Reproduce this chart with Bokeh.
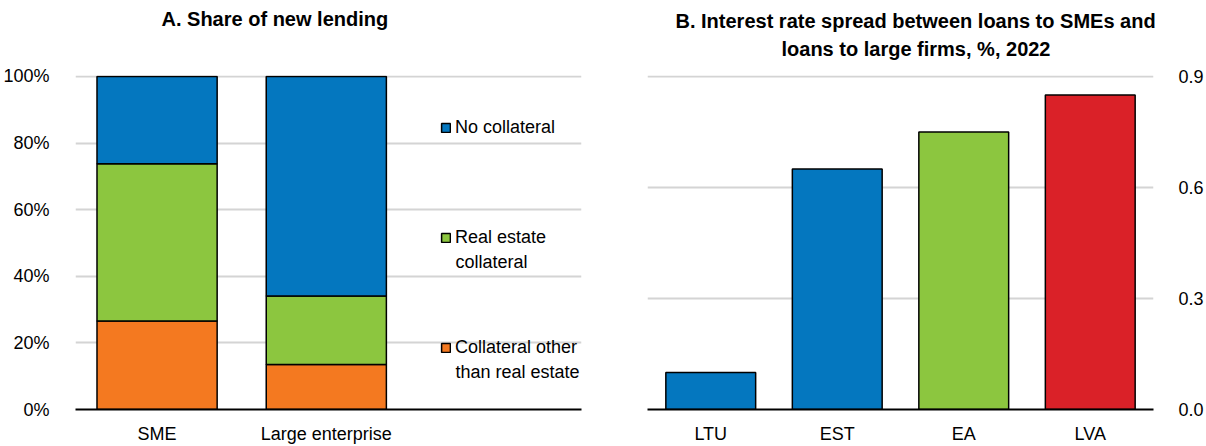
from bokeh.plotting import figure
from bokeh.models import (Range1d, FactorRange, FixedTicker, NumeralTickFormatter,
                          Legend, LegendItem, ColumnDataSource, Label, Title)
from bokeh.layouts import row
from bokeh.embed import file_html
from bokeh.resources import INLINE

# ---- data ----
categories_a = ["SME", "Large enterprise"]
collateral_other = [0.266, 0.135]
real_estate = [0.472, 0.206]
no_collateral = [0.262, 0.659]
series_a = ["collateral_other", "real_estate", "no_collateral"]
legend_first = ["Collateral other", "Real estate", "No collateral"]
legend_second = ["than real estate", "collateral", None]

countries = ["LTU", "EST", "EA", "LVA"]
spread = [0.10, 0.65, 0.75, 0.85]

BLUE = "#0477BF"
GREEN = "#8CC63F"
ORANGE = "#F47920"
RED = "#DA2128"
GRID = "#D4D4D4"
FONT = "Liberation Sans"
FS = "18px"
TFS = "20px"

bar_colors_a = [ORANGE, GREEN, BLUE]
bar_colors_b = [BLUE, BLUE, GREEN, RED]


def style(p):
    p.outline_line_color = None
    p.background_fill_color = "white"
    p.border_fill_color = "white"
    p.xgrid.grid_line_color = None
    p.ygrid.grid_line_color = GRID
    p.ygrid.grid_line_width = 2
    for ax in p.xaxis:
        ax.axis_line_color = "black"
        ax.axis_line_width = 2
        ax.major_tick_line_color = None
        ax.minor_tick_line_color = None
        ax.major_label_text_font = FONT
        ax.major_label_text_font_size = FS
        ax.major_label_text_color = "black"
        ax.major_label_standoff = 8
    for ax in p.yaxis:
        ax.axis_line_color = None
        ax.major_tick_line_color = None
        ax.minor_tick_line_color = None
        ax.major_label_text_font = FONT
        ax.major_label_text_font_size = FS
        ax.major_label_text_color = "black"


def style_title(t, offset, standoff):
    t.text_font = FONT
    t.text_font_size = TFS
    t.text_font_style = "bold"
    t.align = "left"
    t.offset = offset
    t.standoff = standoff
    t.vertical_align = "bottom"
    t.text_color = "black"


def spacer(standoff):
    return Title(text=" ", text_font_size="1px", standoff=standoff)


# ---- panel A ----
src_a = ColumnDataSource(dict(x=[0.5, 1.5], collateral_other=collateral_other,
                              real_estate=real_estate, no_collateral=no_collateral))
pa = figure(width=600, height=446, output_backend="svg", toolbar_location=None,
            x_range=Range1d(0.018, 3.008), y_range=Range1d(0, 1.003),
            title="A. Share of new lending",
            min_border_left=72, min_border_right=19, min_border_top=74, min_border_bottom=32)
rs = pa.vbar_stack(series_a, x="x", width=0.71, source=src_a, color=bar_colors_a,
                   line_color="black", line_width=1.5)
pa.xaxis.ticker = FixedTicker(ticks=[0.5, 1.5])
pa.xaxis.major_label_overrides = {0.5: categories_a[0], 1.5: categories_a[1]}
pa.yaxis.ticker = FixedTicker(ticks=[0, 0.2, 0.4, 0.6, 0.8, 1.0])
pa.yaxis.formatter = NumeralTickFormatter(format="0%")
style(pa)
pa.yaxis.major_label_standoff = 20
style_title(pa.title, 86, 0)
pa.add_layout(spacer(43), "above")

legend_y = [51, 161, 271]
for r, l1, l2, ly in zip(rs, legend_first, legend_second, legend_y):
    lg = Legend(items=[LegendItem(label=l1, renderers=[r])], location=(365, ly),
                padding=0, margin=0, border_line_color=None, background_fill_alpha=0,
                glyph_width=11, glyph_height=11, label_standoff=4, label_height=20,
                label_text_font=FONT, label_text_font_size=FS, label_text_color="black")
    pa.add_layout(lg)
    if l2:
        pa.add_layout(Label(x=380, y=ly - 13, x_units="screen", y_units="screen",
                            text=l2, text_font=FONT, text_font_size=FS,
                            text_color="black", text_baseline="middle"))

# ---- panel B ----
src_b = ColumnDataSource(dict(x=countries, y=spread, c=bar_colors_b))
pb = figure(width=606, height=446, output_backend="svg", toolbar_location=None,
            x_range=FactorRange(*countries), y_range=Range1d(0, 0.9027),
            y_axis_location="right",
            title="B. Interest rate spread between loans to SMEs and",
            min_border_left=47, min_border_right=49, min_border_top=75, min_border_bottom=32)
pb.vbar(x="x", top="y", width=0.71, source=src_b, fill_color="c",
        line_color="black", line_width=1.5)
pb.yaxis.ticker = FixedTicker(ticks=[0, 0.3, 0.6, 0.9])
pb.yaxis.formatter = NumeralTickFormatter(format="0.0")
style(pb)
pb.yaxis.major_label_standoff = 19
style_title(pb.title, 28, 7)
pb.add_layout(spacer(13), "above")
t2 = Title(text="loans to large firms, %, 2022")
style_title(t2, 134, 0)
pb.add_layout(t2, "above")

layout = row(pa, pb)
open("out.html", "w").write(file_html(layout, INLINE))
